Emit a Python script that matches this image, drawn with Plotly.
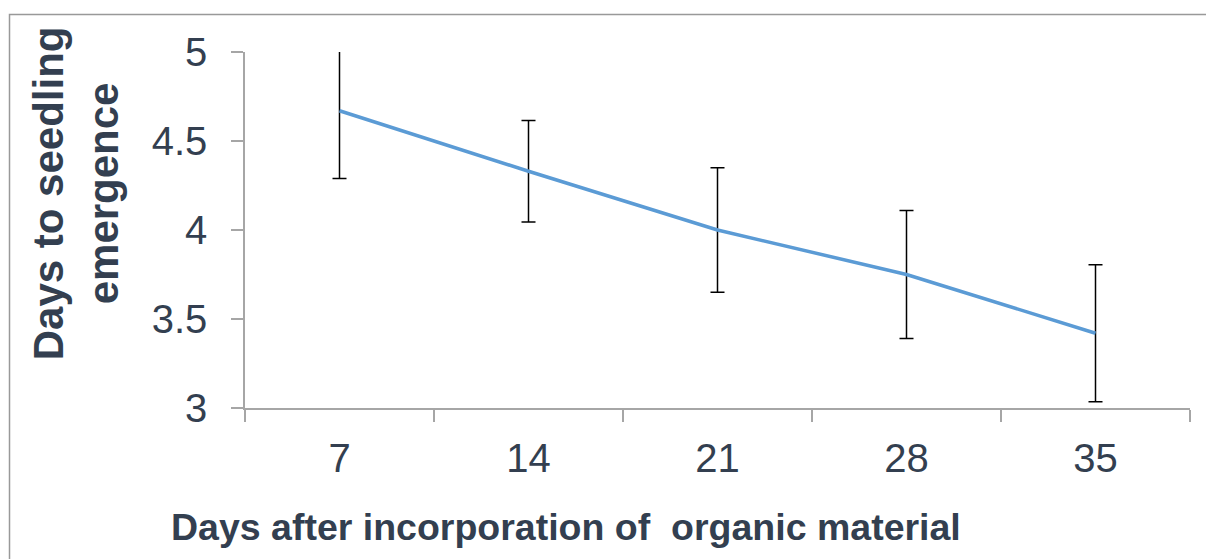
import plotly.graph_objects as go

# Days after incorporation (categories) and mean days to emergence with error
days_after = ["7", "14", "21", "28", "35"]
emergence_days = [4.67, 4.33, 4.00, 3.75, 3.42]
emergence_err = [0.38, 0.285, 0.35, 0.36, 0.385]

y_ticks = [3, 3.5, 4, 4.5, 5]
y_tick_text = ["3", "3.5", "4", "4.5", "5"]

TEXT = "#333F50"
AXIS = "#A6A6A6"
FONT = "Arial, Liberation Sans, sans-serif"

fig = go.Figure()
fig.add_trace(go.Scatter(
    x=days_after,
    y=emergence_days,
    mode="lines",
    line=dict(color="#5B9BD5", width=3.5),
    error_y=dict(type="data", array=emergence_err, visible=True,
                 color="black", thickness=1.5, width=7),
    showlegend=False,
))

fig.update_layout(
    width=1206, height=559,
    margin=dict(l=245, r=16, t=52, b=151),
    paper_bgcolor="white", plot_bgcolor="white",
    font=dict(family=FONT, color=TEXT),
    xaxis=dict(
        type="category",
        range=[-0.5, 4.5],
        tickson="boundaries",
        ticks="outside", ticklen=12, tickwidth=1.5, tickcolor=AXIS,
        showline=True, linecolor=AXIS, linewidth=1.5,
        showgrid=False, zeroline=False,
        tickfont=dict(size=40, family=FONT, color=TEXT),
        ticklabelstandoff=14,
    ),
    yaxis=dict(
        range=[3, 5],
        tickvals=y_ticks, ticktext=y_tick_text,
        ticks="outside", ticklen=12, tickwidth=1.5, tickcolor=AXIS,
        showline=True, linecolor=AXIS, linewidth=1.5,
        showgrid=False, zeroline=False,
        tickfont=dict(size=40, family=FONT, color=TEXT),
        ticklabelstandoff=16,
    ),
    annotations=[
        dict(text="<b>Days to seedling<br>emergence</b>",
             xref="paper", yref="paper", x=-0.1785, y=0.604,
             xanchor="center", yanchor="middle", textangle=-90,
             showarrow=False, font=dict(size=42, family=FONT, color=TEXT)),
        dict(text="<b>Days after incorporation of&nbsp; organic material</b>",
             xref="paper", yref="paper", x=(566 - 245) / 945, y=-0.334,
             xanchor="center", yanchor="middle",
             showarrow=False, font=dict(size=37.5, family=FONT, color=TEXT)),
    ],
    shapes=[
        dict(type="rect", xref="paper", yref="paper",
             x0=-0.2492, x1=1.05, y0=-0.5, y1=1.1053,
             line=dict(color="#999999", width=1.5), layer="below"),
    ],
)

fig.write_html("out.html")
